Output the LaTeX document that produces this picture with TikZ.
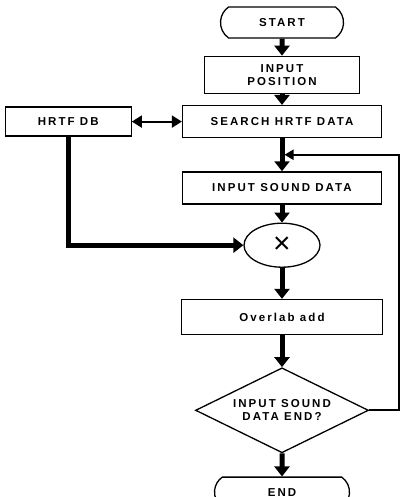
\documentclass[tikz,border=0pt]{standalone}
\usepackage{fontspec}
\newfontfamily\boxfont[LetterSpace=18]{Liberation Sans}
\usetikzlibrary{arrows.meta,positioning,calc,shapes.geometric,shapes.misc}

\begin{document}
\begin{tikzpicture}[
      mybox/.style={
         rectangle,
         draw=black,
         line width=1.3pt,
         inner sep=1pt,
         align=center,
         font=\boxfont\bfseries\fontsize{11.5}{13}\selectfont},
      myterm/.style={
         mybox,
         rounded rectangle,
         rounded rectangle arc length=110},
      myarrow/.style={line width=5pt,-{Triangle[width=15pt,length=10pt]}},
      thinarrow/.style={line width=2pt,-{Triangle[width=10pt,length=9pt]}},
      dblarrow/.style={line width=2pt,{Triangle[width=12pt,length=10pt]}-{Triangle[width=12pt,length=10pt]}}
      ]
      \useasboundingbox (0,0) rectangle (403pt,-497pt);
      \node[myterm,minimum width=125pt,minimum height=31pt] (c1) at (282pt,-22.5pt) {START};
      \node[mybox,minimum width=155pt,minimum height=37pt,below=17pt of c1] (c2) {INPUT\\POSITION};
      \node[mybox,minimum width=199pt,minimum height=32pt,below=11pt of c2] (c3) {SEARCH HRTF DATA};
      \node[mybox,minimum width=126pt,minimum height=29pt,left=50pt of c3] (c0) {HRTF DB};
      \node[mybox,minimum width=199pt,minimum height=32pt,below=33pt of c3] (c4) {INPUT SOUND DATA};
      \node[mybox,ellipse,minimum width=76pt,minimum height=44pt,below=18pt of c4,
            font=\fontspec{Liberation Sans}\fontsize{30}{30}\selectfont] (c5) {×};
      \node[mybox,minimum width=201pt,minimum height=35pt,below=31pt of c5] (c6) {Overlab add};
      \node[mybox,diamond,aspect=2,minimum width=173pt,minimum height=85pt,below=32pt of c6] (c7) {INPUT SOUND\\DATA END?};
      \node[myterm,minimum width=137pt,minimum height=30pt,below=23pt of c7] (c8) {END};

      % join point of the loop back
      \coordinate (j1) at ($(c3.south)!0.5!(c4.north)+(2.5pt,0)$);

    \foreach \i/\j in {c1/c2, c2/c3, c3/c4, c4/c5, c5/c6, c6/c7, c7/c8}
       \draw [myarrow] (\i) -- (\j);
    \draw [dblarrow] (c0) -- (c3);
    \draw [myarrow] (c0.south) |- (c5.west);
    \draw [thinarrow] (c7.east) -- ++(30pt,0) |- (j1);
    \end{tikzpicture}
\end{document}
